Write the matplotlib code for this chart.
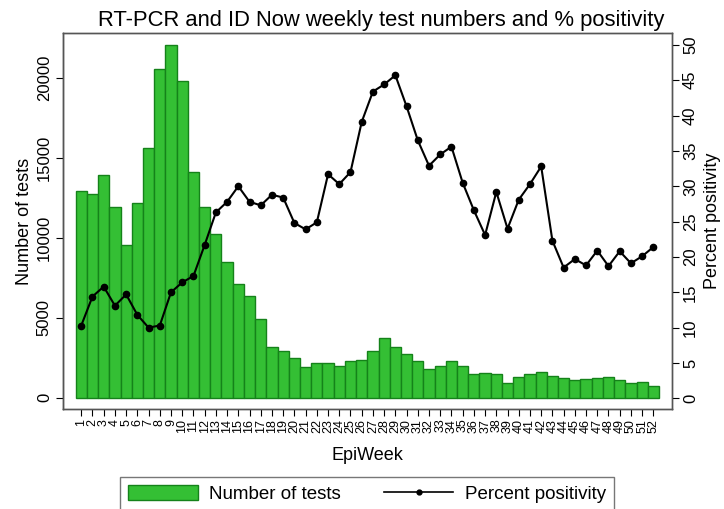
import matplotlib
matplotlib.use("Agg")
import matplotlib.pyplot as plt
from matplotlib.patches import Patch
from matplotlib.lines import Line2D

plt.rcParams['font.family'] = ['Liberation Sans', 'DejaVu Sans']

# --- data ---
weeks = list(range(1, 53))
n_tests = [12900, 12750, 13920, 11920, 9540, 12170, 15600, 20540, 22060, 19810,
           14100, 11920, 10210, 8460, 7130, 6340, 4900, 3190, 2940, 2460,
           1940, 2150, 2190, 2000, 2270, 2330, 2900, 3710, 3170, 2710,
           2270, 1810, 2000, 2310, 1980, 1500, 1520, 1480, 920, 1290,
           1500, 1630, 1380, 1210, 1110, 1150, 1250, 1290, 1090, 920,
           960, 700]
pct_pos = [10.3, 14.4, 15.8, 13.1, 14.7, 11.8, 10.0, 10.3, 15.0, 16.4,
           17.3, 21.7, 26.3, 27.8, 30.0, 27.8, 27.3, 28.8, 28.4, 24.8,
           23.9, 24.9, 31.7, 30.3, 32.0, 39.1, 43.4, 44.4, 45.7, 41.3,
           36.5, 32.9, 34.5, 35.6, 30.5, 26.6, 23.1, 29.2, 24.0, 28.1,
           30.3, 32.8, 22.3, 18.5, 19.7, 18.8, 20.9, 18.7, 20.8, 19.1,
           20.1, 21.4]
left_ticks = [0, 5000, 10000, 15000, 20000]
right_ticks = list(range(0, 55, 5))

bar_face = '#34bf34'
bar_edge = '#15821a'
frame_col = '#555555'

fig = plt.figure(figsize=(7.24, 5.09), dpi=100)
ax = fig.add_axes([0.087, 0.1965, 0.841, 0.7385])
ax2 = ax.twinx()

ax.bar(weeks, n_tests, width=1.0, color=bar_face, edgecolor=bar_edge, linewidth=1.0)
ax2.plot(weeks, pct_pos, color='black', linewidth=1.5, marker='o', markersize=4.5)

ax.set_xlim(-0.63, 53.65)
ax.set_ylim(-706, 22794)
ax2.set_ylim(-1.51, 51.67)

# crowded week labels, as in the original
ax.set_xticks(weeks)
ax.set_xticklabels([str(w) for w in weeks], rotation=90, fontsize=9)
ax.set_yticks(left_ticks)
ax.set_yticklabels([str(t) for t in left_ticks], rotation=90, va='center', fontsize=12)
ax2.set_yticks(right_ticks)
ax2.set_yticklabels([str(t) for t in right_ticks], rotation=90, va='center', fontsize=12)

ax.tick_params(axis='x', length=5, width=0.8, pad=2)
ax.tick_params(axis='y', length=5, width=0.8, pad=3)
ax2.tick_params(axis='y', length=5, width=0.8, pad=3)

for a in (ax, ax2):
    for s in a.spines.values():
        s.set_color(frame_col)
        s.set_linewidth(1.0)
ax.spines['left'].set_color('#222222')

ax.set_xlabel('EpiWeek', fontsize=13, labelpad=10)
ax.set_ylabel('Number of tests', fontsize=13, labelpad=3)
ax2.set_ylabel('Percent positivity', fontsize=13, labelpad=4)
ax.set_title('RT-PCR and ID Now weekly test numbers and % positivity',
             fontsize=15.8, pad=5, x=0.522)

handles = [Patch(facecolor=bar_face, edgecolor=bar_edge, linewidth=1.0),
           Line2D([0], [0], color='black', linewidth=1.2, marker='o', markersize=3.5)]
leg = fig.legend(handles, ['Number of tests', 'Percent positivity'],
                 loc='upper center', bbox_to_anchor=(0.507, 0.063), ncol=2,
                 fontsize=13.5, frameon=True, fancybox=False, edgecolor=frame_col,
                 handlelength=3.7, handleheight=0.85, columnspacing=2.3,
                 borderpad=0.45, handletextpad=0.6, borderaxespad=0)
leg.get_frame().set_linewidth(1.0)

fig.savefig('out.png', dpi=100)
